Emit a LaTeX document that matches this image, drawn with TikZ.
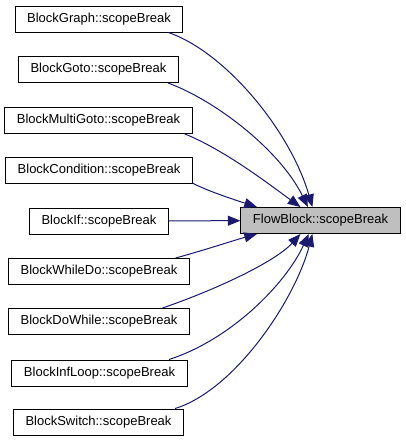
\documentclass[tikz,border=0pt]{standalone}
\usepackage{fontspec}
\setmainfont{Liberation Sans}
\usetikzlibrary{arrows.meta}
\definecolor{edgeblue}{RGB}{25,25,112}
\definecolor{boxgray}{RGB}{191,191,191}
\tikzset{every picture/.style={line width=0.75pt}}
\tikzset{
  fnbox/.style={draw=black, fill=white, inner xsep=9pt, inner ysep=0pt, minimum height=19.5pt, font=\fontsize{9.75}{11}\selectfont},
  focusbox/.style={fnbox, fill=boxgray},
  callarrow/.style={draw=edgeblue, -{Triangle[length=9.5pt,width=7.5pt]}}
}

\begin{document}
\begin{tikzpicture}[x=0.75pt,y=0.75pt,yscale=-1,xscale=1]
\useasboundingbox (0,0) rectangle (405,443);

%Shape: Rectangle (callers)
\node[fnbox] (graph) at (99,19) {BlockGraph::scopeBreak};
\node[fnbox] (goto) at (98.5,69.5) {BlockGoto::scopeBreak};
\node[fnbox] (multigoto) at (98.5,120) {BlockMultiGoto::scopeBreak};
\node[fnbox] (condition) at (99,170) {BlockCondition::scopeBreak};
\node[fnbox] (blkif) at (99,221) {BlockIf::scopeBreak};
\node[fnbox] (whiledo) at (99,271.5) {BlockWhileDo::scopeBreak};
\node[fnbox] (dowhile) at (99,321.5) {BlockDoWhile::scopeBreak};
\node[fnbox] (infloop) at (99.5,373) {BlockInfLoop::scopeBreak};
\node[fnbox] (switch) at (98.5,422) {BlockSwitch::scopeBreak};
%Shape: Rectangle (callee)
\node[focusbox] (flow) at (320.5,220.5) {FlowBlock::scopeBreak};

%Curve Lines
\draw[callarrow] (graph.-11) .. controls (225,52) and (290,130) .. (flow.121);
\draw[callarrow] (goto.-11) .. controls (215,100) and (280,150) .. (flow.133);
\draw[callarrow] (multigoto.-9) .. controls (225,150) and (270,185) .. (flow.146);
\draw[callarrow] (condition.-8) .. controls (205,190) and (235,200) .. (flow.168);
\draw[callarrow] (blkif) -- (flow);
\draw[callarrow] (whiledo.10) .. controls (205,250) and (235,240) .. (flow.192);
\draw[callarrow] (dowhile.12) .. controls (215,290) and (275,262) .. (flow.214);
\draw[callarrow] (infloop.11) .. controls (230,340) and (285,285) .. (flow.229);
\draw[callarrow] (switch.10) .. controls (235,390) and (295,300) .. (flow.239);

\end{tikzpicture}
\end{document}
